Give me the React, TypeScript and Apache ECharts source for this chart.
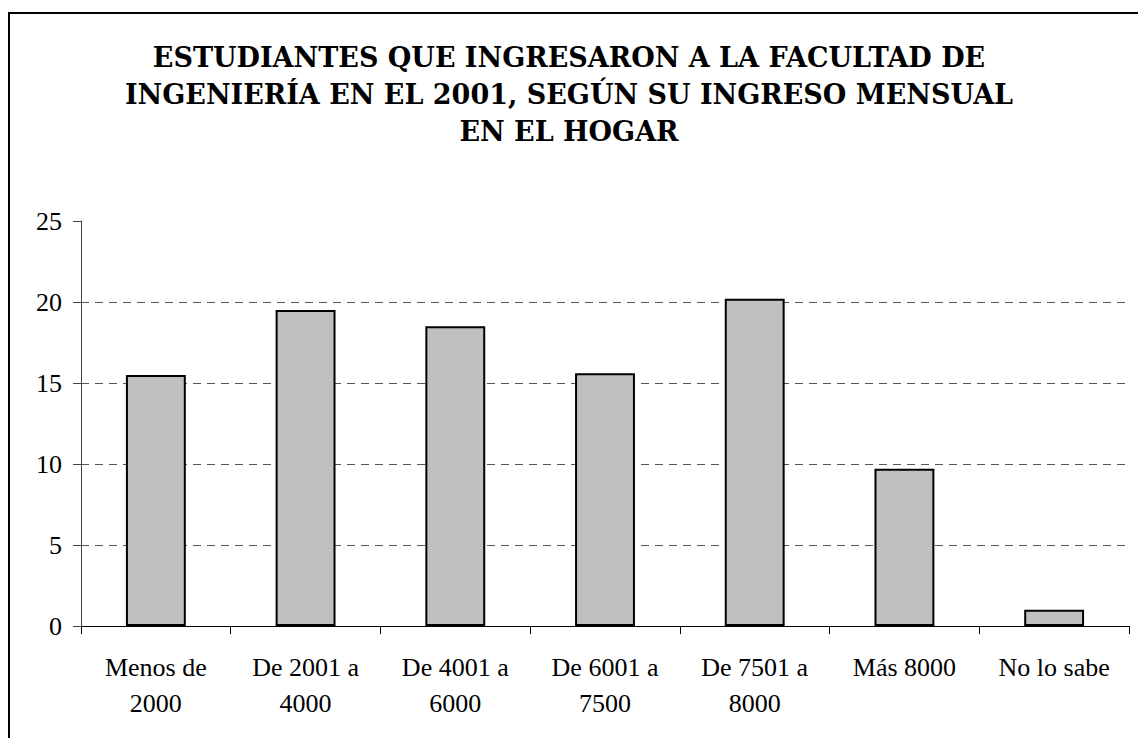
import React, { useEffect, useRef } from "react";
import * as echarts from "echarts";

const titleLines = [
  "ESTUDIANTES QUE INGRESARON A LA FACULTAD DE",
  "INGENIERÍA EN EL 2001, SEGÚN SU INGRESO MENSUAL",
  "EN EL HOGAR",
];
const categories = [
  "Menos de\n2000",
  "De 2001 a\n4000",
  "De 4001 a\n6000",
  "De 6001 a\n7500",
  "De 7501 a\n8000",
  "Más 8000",
  "No lo sabe",
];
const values = [15.5, 19.5, 18.5, 15.6, 20.2, 9.7, 1.0];
const yTicks = { min: 0, max: 25, interval: 5 };

export default function App() {
  const ref = useRef<HTMLDivElement>(null);
  useEffect(() => {
    if (!ref.current) return;
    const chart = echarts.init(ref.current, null, { renderer: "svg" });
    const titleY = [57, 94, 131];
    chart.setOption({
      animation: false,
      backgroundColor: "#ffffff",
      textStyle: { fontFamily: "serif" },
      graphic: [
        {
          type: "rect",
          shape: { x: 9, y: 13, width: 1200, height: 800 },
          style: { fill: "none", stroke: "#000", lineWidth: 2 },
          silent: true,
        },
        ...titleLines.map((t, i) => ({
          type: "text",
          x: 569,
          y: titleY[i],
          silent: true,
          style: {
            text: t,
            font: "bold 27px DejaVu Serif",
            fill: "#000",
            textAlign: "center",
            textVerticalAlign: "middle",
          },
        })),
      ],
      grid: { left: 81, right: 9, top: 221, bottom: 112, containLabel: false },
      xAxis: {
        type: "category",
        data: categories,
        axisLine: { show: true, lineStyle: { color: "#000", width: 1 } },
        axisTick: { show: true, length: 8, lineStyle: { color: "#000" } },
        axisLabel: {
          fontFamily: "Liberation Serif",
          fontSize: 26,
          lineHeight: 36,
          color: "#000",
          margin: 23,
          interval: 0,
        },
      },
      yAxis: {
        type: "value",
        min: yTicks.min,
        max: yTicks.max,
        interval: yTicks.interval,
        axisLine: { show: true, lineStyle: { color: "#444", width: 1 } },
        axisTick: { show: true, length: 8, lineStyle: { color: "#444" } },
        axisLabel: {
          fontFamily: "serif",
          fontSize: 26,
          color: "#000",
          margin: 19,
        },
        splitLine: {
          show: true,
          showMinLine: false,
          showMaxLine: false,
          lineStyle: { color: "#555", width: 1, type: [8, 6] },
        },
      },
      series: [
        {
          type: "bar",
          data: values,
          barWidth: "40%",
          itemStyle: { color: "#c0c0c0", borderColor: "#000", borderWidth: 2 },
        },
      ],
    });
    return () => chart.dispose();
  }, []);
  return (
    <div
      ref={ref}
      style={{ position: "fixed", left: 0, top: 0, width: 1138, height: 738 }}
    />
  );
}
